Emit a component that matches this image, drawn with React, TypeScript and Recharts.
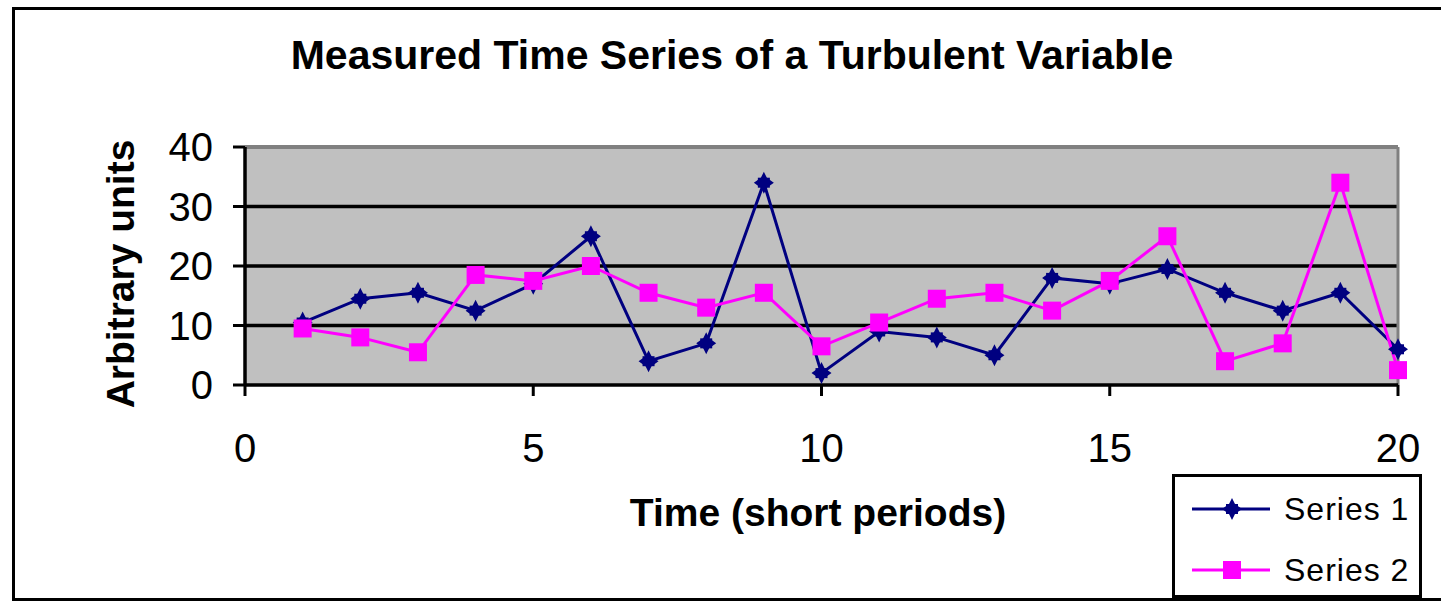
import { LineChart, Line, XAxis, YAxis, CartesianGrid, ReferenceLine } from "recharts";

const time = [1, 2, 3, 4, 5, 6, 7, 8, 9, 10, 11, 12, 13, 14, 15, 16, 17, 18, 19, 20];
const series1 = [10.5, 14.5, 15.5, 12.5, 17, 25, 4, 7, 34, 2, 9, 8, 5, 18, 17, 19.5, 15.5, 12.5, 15.5, 6];
const series2 = [9.5, 8, 5.5, 18.5, 17.5, 20, 15.5, 13, 15.5, 6.5, 10.5, 14.5, 15.5, 12.5, 17.5, 25, 4, 7, 34, 2.5];
const seriesNames = ["Series 1", "Series 2"];
const xTicks = [0, 5, 10, 15, 20];
const yTicks = [0, 10, 20, 30, 40];

const data = time.map((t, i) => ({ t, s1: series1[i], s2: series2[i] }));

const FONT = "'Liberation Sans', Arial, sans-serif";
const NAVY = "#000080";
const PINK = "#FF00FF";

// four-pointed star like the old Excel marker
const StarDot = ({ cx, cy }: any) => {
  if (cx == null || cy == null) return null;
  const pts = [
    [0, -11], [3, -5], [10, 0], [3, 5], [0, 11], [-3, 5], [-10, 0], [-3, -5],
  ].map(([dx, dy]) => `${cx + dx},${cy + dy}`).join(" ");
  return (
    <g>
      <polygon points={pts} fill={NAVY} />
      <rect x={cx - 6} y={cy - 5} width={12} height={10} fill={NAVY} />
    </g>
  );
};

const SquareDot = ({ cx, cy }: any) => {
  if (cx == null || cy == null) return null;
  return <rect x={cx - 9} y={cy - 9} width={18} height={18} fill={PINK} />;
};

const XTick = ({ x, y, payload }: any) => (
  <text x={x} y={y + 64} textAnchor="middle" fontFamily={FONT} fontSize={40} fill="#000">
    {payload.value}
  </text>
);

const YTick = ({ x, y, payload }: any) => (
  <text x={x} y={y + 14} textAnchor="end" fontFamily={FONT} fontSize={40} fill="#000">
    {payload.value}
  </text>
);

const LegendBox = () => (
  <div
    style={{
      position: "absolute", left: 1172, top: 474, width: 244, height: 118,
      border: "3px solid #000", background: "#fff", fontFamily: FONT, fontSize: 32,
    }}
  >
    {seriesNames.map((name, i) => (
      <div
        key={name}
        style={{
          position: "absolute", left: 15, top: 14 + i * 61, height: 36,
          display: "flex", alignItems: "center", whiteSpace: "nowrap",
        }}
      >
        <svg width={82} height={30}>
          <line x1={2} y1={15} x2={80} y2={15} stroke={i === 0 ? NAVY : PINK} strokeWidth={3} />
          {i === 0 ? <StarDot cx={42} cy={15} /> : <SquareDot cx={42} cy={15} />}
        </svg>
        <span style={{ marginLeft: 12, letterSpacing: 1 }}>{name}</span>
      </div>
    ))}
  </div>
);

export default function App() {
  return (
    <div style={{ position: "absolute", left: 0, top: 0, width: 1441, height: 603, background: "#fff", overflow: "hidden" }}>
      <div style={{ position: "absolute", left: 12, top: 7, width: 1440, height: 588, border: "3px solid #000" }} />
      <div
        style={{
          position: "absolute", left: 0, width: 1464, top: 32, textAlign: "center",
          fontFamily: FONT, fontWeight: "bold", fontSize: 41, color: "#000",
        }}
      >
        Measured Time Series of a Turbulent Variable
      </div>
      <div
        style={{
          position: "absolute", left: 121, top: 274, transform: "translate(-50%, -50%) rotate(-90deg)",
          whiteSpace: "nowrap", fontFamily: FONT, fontWeight: "bold", fontSize: 39, color: "#000",
        }}
      >
        Arbitrary units
      </div>
      <div
        style={{
          position: "absolute", left: 818, top: 513, transform: "translate(-50%, -50%)",
          whiteSpace: "nowrap", fontFamily: FONT, fontWeight: "bold", fontSize: 39, color: "#000",
        }}
      >
        Time (short periods)
      </div>
      <div style={{ position: "absolute", left: 0, top: 0 }}>
        <LineChart width={1441} height={603} data={data} margin={{ top: 147, right: 43, bottom: 0, left: 0 }}>
          <CartesianGrid
            vertical={false}
            horizontalValues={[10, 20, 30]}
            stroke="#000"
            strokeWidth={3.5}
            fill="#C0C0C0"
            fillOpacity={1}
          />
          <ReferenceLine y={40} stroke="#808080" strokeWidth={4} />
          <ReferenceLine x={20} stroke="#808080" strokeWidth={3} />
          <XAxis
            dataKey="t"
            type="number"
            domain={[0, 20]}
            ticks={xTicks}
            height={218}
            axisLine={{ stroke: "#000", strokeWidth: 3.5 }}
            tickLine={{ stroke: "#000", strokeWidth: 3 }}
            tickSize={11}
            tick={<XTick />}
            interval={0}
          />
          <YAxis
            type="number"
            domain={[0, 40]}
            ticks={yTicks}
            width={245}
            axisLine={{ stroke: "#000", strokeWidth: 3.5 }}
            tickLine={{ stroke: "#000", strokeWidth: 3 }}
            tickSize={12}
            tickMargin={20}
            tick={<YTick />}
            interval={0}
          />
          <Line
            dataKey="s1"
            name={seriesNames[0]}
            stroke={NAVY}
            strokeWidth={3}
            dot={<StarDot />}
            activeDot={false}
            isAnimationActive={false}
          />
          <Line
            dataKey="s2"
            name={seriesNames[1]}
            stroke={PINK}
            strokeWidth={3}
            dot={<SquareDot />}
            activeDot={false}
            isAnimationActive={false}
          />
        </LineChart>
      </div>
      <LegendBox />
    </div>
  );
}
